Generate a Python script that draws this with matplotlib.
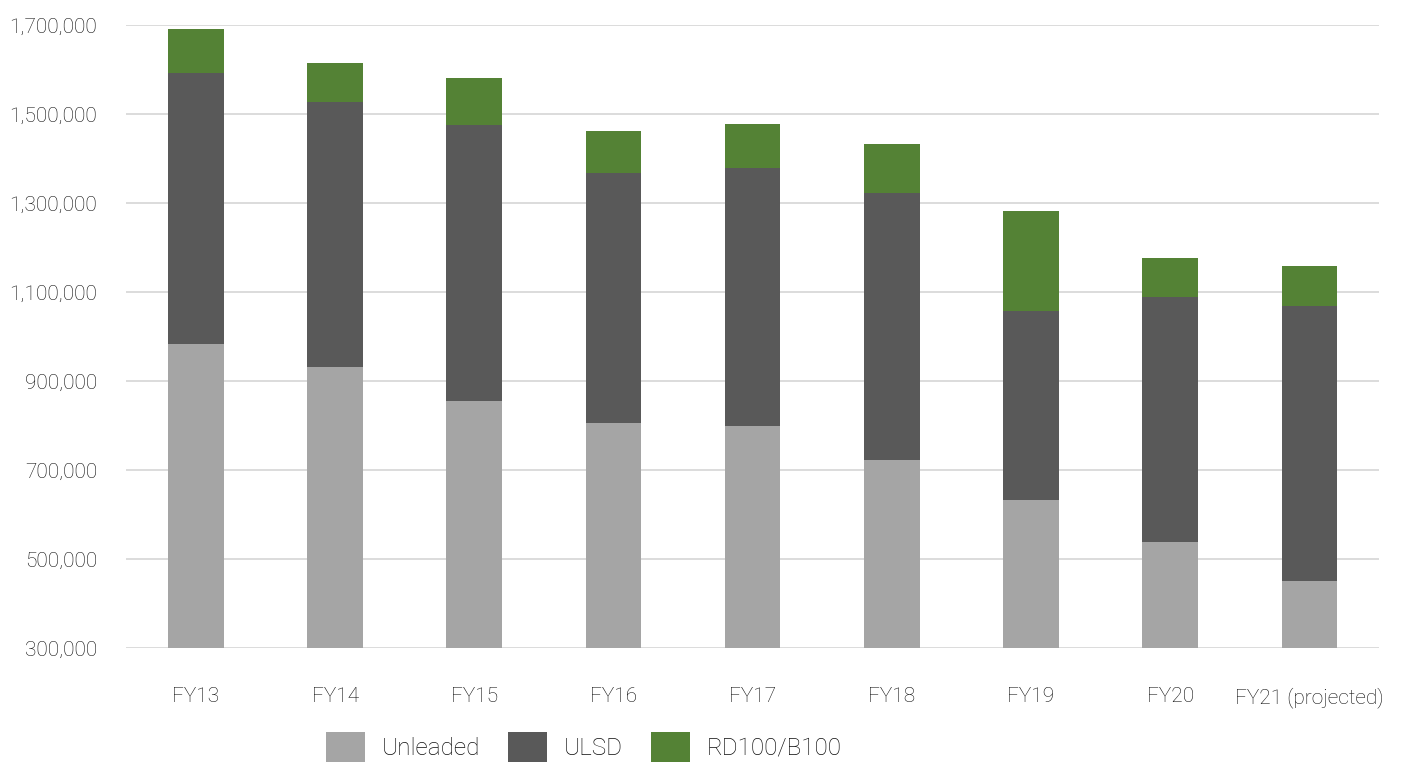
import matplotlib
matplotlib.use("Agg")
import matplotlib.pyplot as plt
import numpy as np

plt.rcParams['font.family'] = ['Roboto', 'DejaVu Sans']
plt.rcParams['font.weight'] = 'light'

years = ['FY13', 'FY14', 'FY15', 'FY16', 'FY17', 'FY18', 'FY19', 'FY20', 'FY21 (projected)']
# cumulative tops of each stacked segment (gallons)
unleaded = [983000, 933000, 856500, 805700, 799700, 723400, 633600, 538100, 450800]
ulsd_top = [1593000, 1528000, 1475500, 1368400, 1378300, 1322100, 1058600, 1090000, 1069100]
total_top = [1690000, 1615000, 1580000, 1462700, 1477700, 1432800, 1283100, 1176200, 1158900]

ulsd = [t - u for t, u in zip(ulsd_top, unleaded)]
rd100 = [t - s for t, s in zip(total_top, ulsd_top)]

yticks = [300000, 500000, 700000, 900000, 1100000, 1300000, 1500000, 1700000]

fig = plt.figure(figsize=(14.1, 7.63), dpi=100)
ax = fig.add_axes([0.0896, 0.1501, 0.8884, 0.8172])

x = np.arange(len(years))
w = 0.40
ax.bar(x, unleaded, w, color='#a5a5a5', label='Unleaded', zorder=2)
ax.bar(x, ulsd, w, bottom=unleaded, color='#595959', label='ULSD', zorder=2)
ax.bar(x, rd100, w, bottom=ulsd_top, color='#548235', label='RD100/B100', zorder=2)

ax.set_xlim(-0.5, len(years) - 0.5)
ax.set_ylim(300000, 1700000)
ax.set_yticks(yticks)
ax.set_yticklabels([f'{v:,}' for v in yticks])
ax.set_xticks(x)
ax.set_xticklabels(years)

ax.grid(axis='y', color='#d9d9d9', linewidth=1.3, zorder=0)
ax.set_axisbelow(True)
for s in ax.spines.values():
    s.set_visible(False)
ax.tick_params(axis='both', length=0, labelsize=15, labelcolor='#0d0d0d')
ax.tick_params(axis='y', pad=21)
ax.tick_params(axis='x', pad=28)

fig.legend(loc='center', bbox_to_anchor=(0.414, 0.021), ncol=3, frameon=False,
           fontsize=17.5, handlelength=1.6, handleheight=1.55, handletextpad=0.7,
           columnspacing=1.15, labelcolor='#0d0d0d')

fig.savefig('out.png', dpi=100, facecolor='white')
